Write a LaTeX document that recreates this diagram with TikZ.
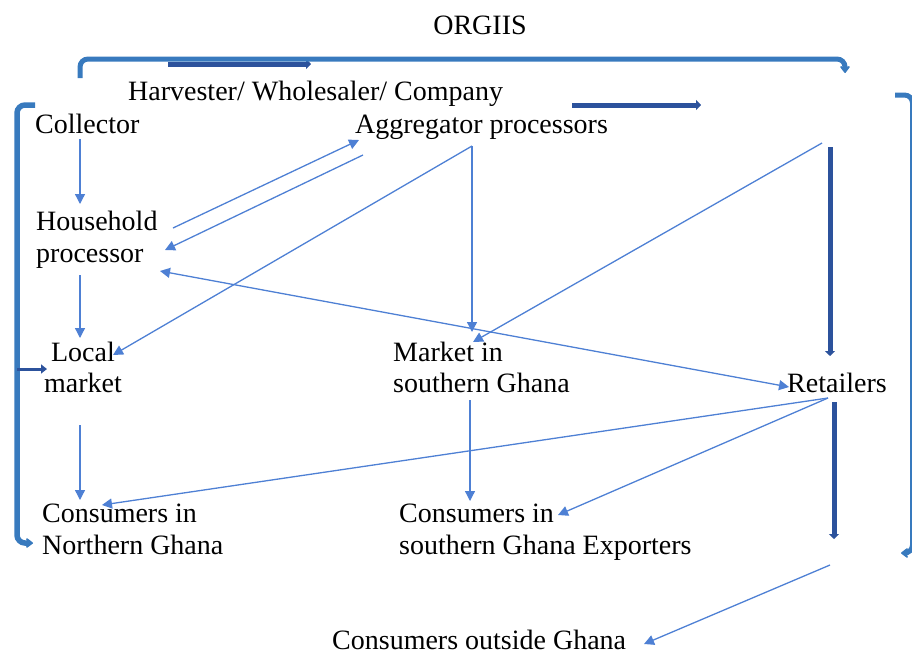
\documentclass[tikz,border=0pt]{standalone}
\usepackage{fontspec}
\setmainfont{Liberation Serif}
\usetikzlibrary{arrows.meta}
\definecolor{thinblue}{RGB}{78,128,212}
\definecolor{darkblue}{RGB}{44,82,156}
\definecolor{brkblue}{RGB}{56,122,190}
\begin{document}
\begin{tikzpicture}[x=1pt,y=-1pt,
  lbl/.style={inner sep=0pt, font=\fontsize{28}{32}\selectfont, text=black},
  flow/.style={draw=thinblue, line width=1.3pt, -{Triangle[length=10pt,width=10pt]}},
  bothflow/.style={draw=thinblue, line width=1.3pt, {Triangle[length=10pt,width=10pt]}-{Triangle[length=10pt,width=10pt]}},
  bigflow/.style={draw=darkblue, line width=5pt, -{Triangle[length=5pt,width=10pt]}},
  bracket/.style={draw=brkblue, line width=5pt, rounded corners=8pt, -{Stealth[length=8pt,width=12pt,inset=2pt,round]}}
]
\useasboundingbox (0,0) rectangle (912,654);

% texts
\node[lbl, anchor=base] (orgiis) at (480,34) {ORGIIS};
\node[lbl, anchor=base west] (harv) at (128,100) {Harvester/ Wholesaler/ Company};
\node[lbl, anchor=base west] (coll) at (35,133) {Collector};
\node[lbl, anchor=base west] (aggr) at (355,133) {Aggregator processors};
\node[lbl, anchor=north west, align=left] (hh) at (36,211) {Household\\processor};
\node[lbl, anchor=north, align=center] (local) at (83,342) {Local\\[-1pt]market};
\node[lbl, anchor=north west, align=left] (msg) at (393,342) {Market in\\[-1pt]southern Ghana};
\node[lbl, anchor=base west] (ret) at (787,392) {Retailers};
\node[lbl, anchor=north west, align=left] (cng) at (42,504) {Consumers in\\Northern Ghana};
\node[lbl, anchor=north west, align=left] (csg) at (399,504) {Consumers in\\southern Ghana Exporters};
\node[lbl, anchor=base west] (cog) at (332,649) {Consumers outside Ghana};

% connector end points
\coordinate (collS) at (80,139);
\coordinate (hhN) at (80,204);
\coordinate (hhS) at (80,275);
\coordinate (localN) at (80,338);
\coordinate (localS) at (80,425);
\coordinate (cngN) at (80,500);
\coordinate (hhE1) at (173,228);
\coordinate (aggrW1) at (359,140);
\coordinate (aggrW2) at (363,155);
\coordinate (hhE2) at (165,250);
\coordinate (aggrS) at (472,146);
\coordinate (localE) at (113,355);
\coordinate (msgN) at (472,332);
\coordinate (rtop) at (822,143);
\coordinate (msgNE) at (473,342);
\coordinate (hhE3) at (160,271);
\coordinate (retW) at (789,387);
\coordinate (retS) at (828,398);
\coordinate (cngNE) at (102,505);
\coordinate (csgE) at (558,515);
\coordinate (msgS) at (470,400);
\coordinate (csgN) at (470,501);
\coordinate (expS) at (830,565);
\coordinate (cogE) at (644,644);

% thin flows
\draw[flow] (collS) -- (hhN);
\draw[flow] (hhS) -- (localN);
\draw[flow] (localS) -- (cngN);
\draw[flow] (hhE1) -- (aggrW1);
\draw[flow] (aggrW2) -- (hhE2);
\draw[flow] (aggrS) -- (localE);
\draw[flow] (aggrS) -- (msgN);
\draw[flow] (rtop) -- (msgNE);
\draw[bothflow] (hhE3) -- (retW);
\draw[flow] (retS) -- (cngNE);
\draw[flow] (retS) -- (csgE);
\draw[flow] (msgS) -- (csgN);
\draw[flow] (expS) -- (cogE);

% thick dark flows
\coordinate (hbarA) at (168,64);
\coordinate (hbarB) at (311,64);
\coordinate (agbarA) at (572,105);
\coordinate (agbarB) at (701,105);
\coordinate (vbar1A) at (830,147);
\coordinate (vbar1B) at (830,356);
\coordinate (vbar2A) at (834,402);
\coordinate (vbar2B) at (834,539);
\draw[bigflow] (hbarA) -- (hbarB);
\draw[bigflow] (agbarA) -- (agbarB);
\draw[bigflow] (vbar1A) -- (vbar1B);
\draw[bigflow] (vbar2A) -- (vbar2B);

% brackets
\coordinate (tbA) at (80,78);
\coordinate (tbB) at (845,73);
\draw[bracket] (tbA) -- (80,59) -- (845,59) -- (tbB);
\coordinate (lbA) at (35,105);
\coordinate (lbB) at (33,543);
\draw[bracket, line width=5.5pt] (lbA) -- (17,105) -- (17,543) -- (lbB);
\coordinate (lbM) at (17,369);
\coordinate (lbMe) at (47,369);
\draw[draw=darkblue, line width=3pt, -{Triangle[length=6pt,width=9pt]}] (lbM) -- (lbMe);
\coordinate (rbA) at (895,95);
\coordinate (rbB) at (901,553);
\draw[bracket] (rbA) -- (912.5,95) -- (912.5,553) -- (rbB);
\end{tikzpicture}
\end{document}
